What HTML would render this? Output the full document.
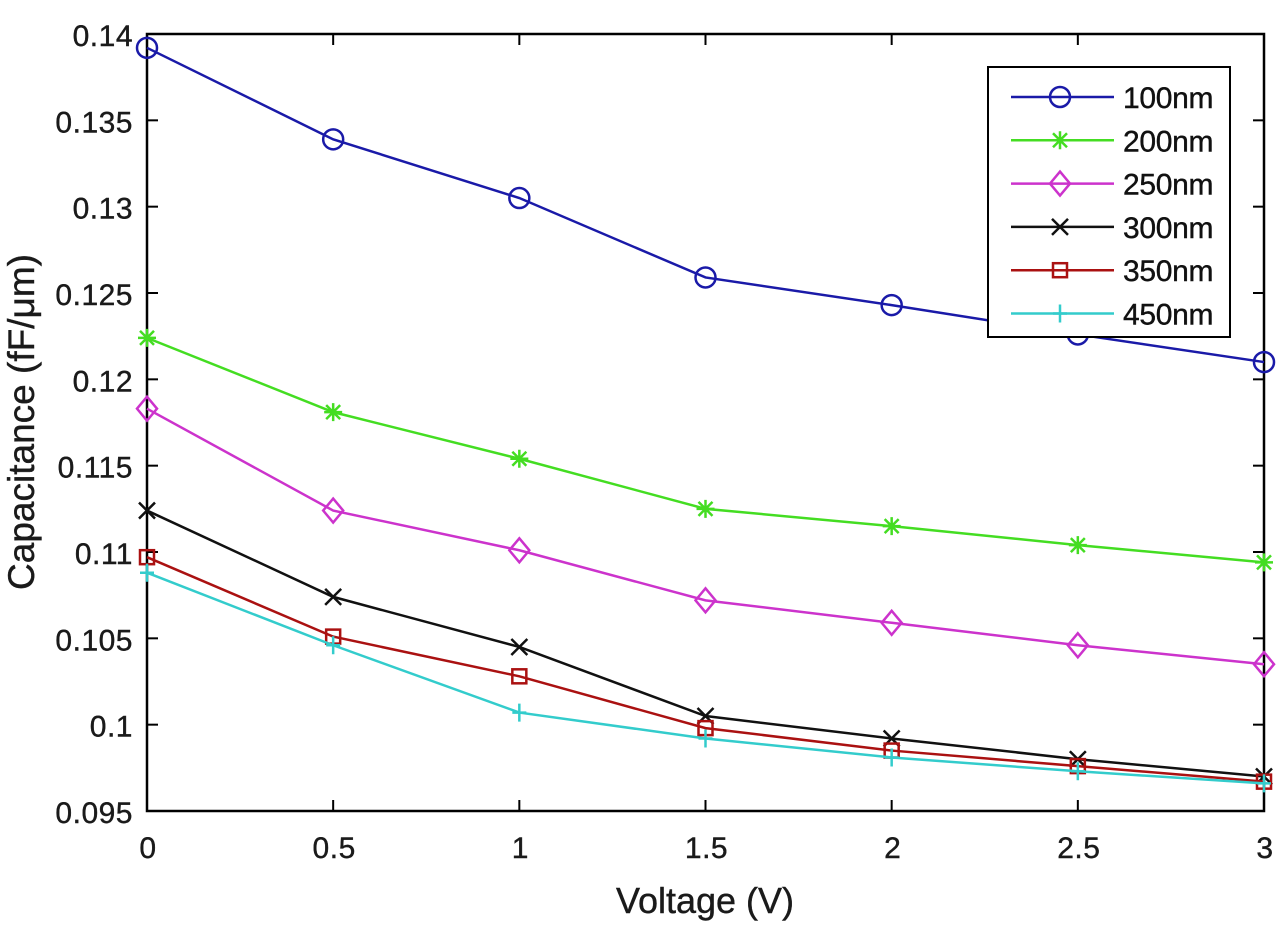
<!DOCTYPE html>
<html><head><meta charset="utf-8"><style>
body{margin:0;background:#fff}
svg{display:block;font-family:"Liberation Sans",Arial,sans-serif}
</style></head><body>
<svg id="chart" width="1280" height="926">
<g id="axes"></g>
<g id="series"></g>
<g id="legend"></g>
<text x="705" y="913" font-size="36" text-anchor="middle" fill="#1a1a1a" stroke="#1a1a1a" stroke-width="0.4">Voltage (V)</text>
<text transform="translate(34,422) rotate(-90)" font-size="37" text-anchor="middle" fill="#1a1a1a" stroke="#1a1a1a" stroke-width="0.4">Capacitance (fF/μm)</text>
</svg>
<script>
const voltages=[0,0.5,1,1.5,2,2.5,3];
const names=["100nm","200nm","250nm","300nm","350nm","450nm"];
const s100=[0.1392,0.1339,0.1305,0.1259,0.1243,0.1226,0.1210];
const s200=[0.1224,0.1181,0.1154,0.1125,0.1115,0.1104,0.1094];
const s250=[0.1183,0.1124,0.1101,0.1072,0.1059,0.1046,0.1035];
const s300=[0.1124,0.1074,0.1045,0.1005,0.0992,0.0980,0.0970];
const s350=[0.1097,0.1051,0.1028,0.0998,0.0985,0.0976,0.0967];
const s450=[0.1088,0.1046,0.1007,0.0992,0.0981,0.0973,0.0966];
const xTicks=[0,0.5,1,1.5,2,2.5,3];
const xTickLabels=["0","0.5","1","1.5","2","2.5","3"];
const yTicks=[0.095,0.1,0.105,0.11,0.115,0.12,0.125,0.13,0.135,0.14];
const yTickLabels=["0.095","0.1","0.105","0.11","0.115","0.12","0.125","0.13","0.135","0.14"];
const L=147,R=1264,T=34,B=811;
const X=v=>L+(v-0)/(3-0)*(R-L);
const Y=v=>B-(v-0.095)/(0.14-0.095)*(B-T);
const NS="http://www.w3.org/2000/svg";
function mk(tag,attrs,parent){const e=document.createElementNS(NS,tag);for(const k in attrs)e.setAttribute(k,attrs[k]);parent.appendChild(e);return e;}
const axes=document.getElementById('axes');
const frame=mk('rect',{x:L,y:T,width:R-L,height:B-T,fill:'none',stroke:'#000','stroke-width':2.5},axes);


xTicks.forEach((t,i)=>{const x=X(t);
mk('line',{x1:x,y1:B,x2:x,y2:B-11,stroke:'#000','stroke-width':2},axes);
mk('line',{x1:x,y1:T,x2:x,y2:T+11,stroke:'#000','stroke-width':2},axes);
const tx=mk('text',{x:x+1,y:B+47,'font-size':30,'letter-spacing':0.5,'text-anchor':'middle',fill:'#1a1a1a',stroke:'#1a1a1a','stroke-width':0.4},axes);tx.textContent=xTickLabels[i];

});
yTicks.forEach((t,i)=>{const y=Y(t);
mk('line',{x1:L,y1:y,x2:L+11,y2:y,stroke:'#000','stroke-width':2},axes);
mk('line',{x1:R,y1:y,x2:R-11,y2:y,stroke:'#000','stroke-width':2},axes);
const tx=mk('text',{x:133,y:y+12,'font-size':30,'letter-spacing':0.5,'text-anchor':'end',fill:'#1a1a1a',stroke:'#1a1a1a','stroke-width':0.4},axes);tx.textContent=yTickLabels[i];

});
const colors=["#1a1aa8","#44dd22","#cc33cc","#111111","#aa1111","#33cccc"];
const markers=["circle","star","diamond","x","square","plus"];
const data=[s100,s200,s250,s300,s350,s450];
function marker(type,x,y,c,g){
 const st={fill:'none',stroke:c,'stroke-width':2.5};
 if(type==='circle')mk('circle',Object.assign({cx:x,cy:y,r:10},st),g);
 else if(type==='square')mk('rect',Object.assign({x:x-7,y:y-7,width:14,height:14},st),g);
 else if(type==='diamond')mk('path',Object.assign({d:`M${x} ${y-12}L${x+10} ${y}L${x} ${y+12}L${x-10} ${y}Z`},st),g);
 else if(type==='x')mk('path',Object.assign({d:`M${x-8} ${y-8}L${x+8} ${y+8}M${x+8} ${y-8}L${x-8} ${y+8}`},st),g);
 else if(type==='plus')mk('path',Object.assign({d:`M${x-7} ${y}L${x+7} ${y}M${x} ${y-9}L${x} ${y+9}`},st),g);
 else mk('path',Object.assign({d:`M${x-9} ${y}L${x+9} ${y}M${x} ${y-9}L${x} ${y+9}M${x-7} ${y-7}L${x+7} ${y+7}M${x+7} ${y-7}L${x-7} ${y+7}`},st),g);
}
const sg=document.getElementById('series');
data.forEach((arr,si)=>{
 const g=mk('g',{},sg);
 
 
 mk('polyline',{points:arr.map((v,i)=>X(voltages[i])+','+Y(v)).join(' '),fill:'none',stroke:colors[si],'stroke-width':2.5},g);
 arr.forEach((v,i)=>marker(markers[si],X(voltages[i]),Y(v),colors[si],g));
});
const lg=document.getElementById('legend');
const box=mk('rect',{x:988,y:67,width:242,height:270,fill:'#fff',stroke:'#000','stroke-width':2},lg);


names.forEach((n,i)=>{const y=97+i*43.3;
 const g=mk('g',{},lg);
 
 
 mk('line',{x1:1011,y1:y,x2:1114,y2:y,stroke:colors[i],'stroke-width':2.5},g);
 marker(markers[i],1060,y,colors[i],g);
 const t=mk('text',{x:1123,y:y+11,'font-size':30,'letter-spacing':-0.3,fill:'#111',stroke:'#111','stroke-width':0.4},g);t.textContent=n;
});
</script>
</body></html>
